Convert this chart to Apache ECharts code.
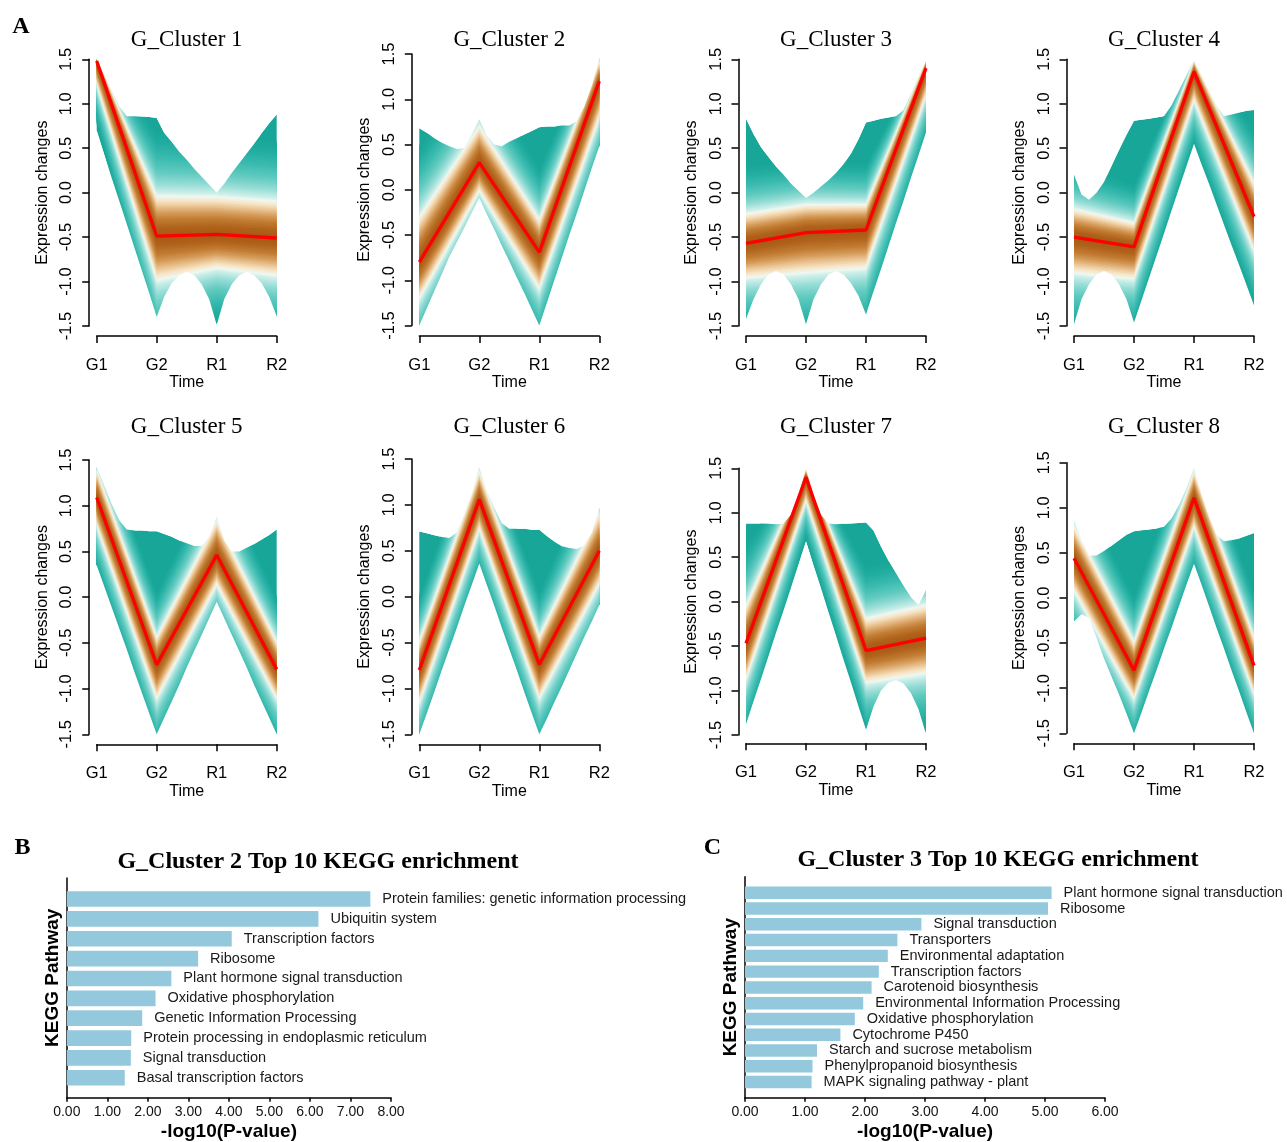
<!DOCTYPE html>
<html><head><meta charset="utf-8">
<script src="https://cdn.jsdelivr.net/npm/echarts/dist/echarts.min.js"></script>
<style>html,body{margin:0;padding:0;background:#fff}#main{width:1287px;height:1142px}</style>
</head><body><div id="main"></div>
<script>
// ---------- DATA ----------
const timeLabels = ['G1', 'G2', 'R1', 'R2'];
// positions (in time steps) at which the outer envelope was read
const envX = [0, 0.125, 0.25, 0.375, 0.5, 0.625, 0.75, 0.875, 1, 1.125, 1.25, 1.375, 1.5, 1.625, 1.75, 1.875, 2, 2.125, 2.25, 2.375, 2.5, 2.625, 2.75, 2.875, 3];
const clusterTitles = ['G_Cluster 1','G_Cluster 2','G_Cluster 3','G_Cluster 4','G_Cluster 5','G_Cluster 6','G_Cluster 7','G_Cluster 8'];

// centroid (red line) at G1,G2,R1,R2
const c1Center = [1.48, -0.49, -0.47, -0.51];
const c2Center = [-0.80, 0.30, -0.69, 1.20];
const c3Center = [-0.57, -0.45, -0.42, 1.40];
const c4Center = [-0.50, -0.61, 1.36, -0.27];
const c5Center = [1.09, -0.74, 0.46, -0.79];
const c6Center = [-0.80, 1.06, -0.74, 0.50];
const c7Center = [-0.47, 1.40, -0.55, -0.41];
const c8Center = [0.44, -0.80, 1.11, -0.75];

// outer envelope of all member profiles, read at envX
const c1Upper = [1.50, 1.33, 1.15, 0.97, 0.86, 0.86, 0.855, 0.85, 0.84, 0.67, 0.57, 0.46, 0.37, 0.27, 0.18, 0.09, 0.00, 0.10, 0.22, 0.33, 0.44, 0.55, 0.67, 0.78, 0.88];
const c1Lower = [0.70, 0.43, 0.165, -0.09, -0.35, -0.61, -0.87, -1.13, -1.40, -1.17, -1.02, -0.93, -0.89, -0.93, -1.03, -1.20, -1.49, -1.20, -1.03, -0.93, -0.89, -0.93, -1.02, -1.17, -1.39];
const c2Upper = [0.68, 0.63, 0.57, 0.52, 0.48, 0.45, 0.46, 0.61, 0.78, 0.60, 0.50, 0.48, 0.53, 0.57, 0.61, 0.65, 0.69, 0.70, 0.70, 0.71, 0.71, 0.76, 0.92, 1.15, 1.45];
const c2Lower = [-1.50, -1.31, -1.12, -0.93, -0.74, -0.58, -0.42, -0.25, -0.09, -0.27, -0.44, -0.62, -0.79, -0.97, -1.14, -1.32, -1.50, -1.25, -1.00, -0.75, -0.50, -0.26, -0.01, 0.24, 0.48];
const c3Upper = [0.83, 0.66, 0.51, 0.40, 0.29, 0.20, 0.10, 0.02, -0.06, 0.00, 0.07, 0.14, 0.22, 0.32, 0.44, 0.60, 0.79, 0.81, 0.83, 0.845, 0.86, 0.93, 1.11, 1.30, 1.49];
const c3Lower = [-1.42, -1.20, -1.03, -0.92, -0.88, -0.92, -1.03, -1.20, -1.48, -1.20, -1.03, -0.92, -0.88, -0.92, -1.02, -1.16, -1.37, -1.11, -0.86, -0.60, -0.34, -0.09, 0.17, 0.42, 0.68];
const c4Upper = [0.20, -0.02, -0.08, 0.00, 0.12, 0.30, 0.48, 0.65, 0.81, 0.82, 0.83, 0.845, 0.86, 0.98, 1.15, 1.32, 1.49, 1.32, 1.15, 0.98, 0.86, 0.88, 0.90, 0.92, 0.93];
const c4Lower = [-1.48, -1.20, -1.03, -0.92, -0.88, -0.92, -1.03, -1.20, -1.46, -1.21, -0.96, -0.71, -0.46, -0.20, 0.05, 0.30, 0.55, 0.32, 0.10, -0.13, -0.36, -0.59, -0.81, -1.04, -1.27];
const c5Upper = [1.42, 1.22, 1.02, 0.84, 0.74, 0.73, 0.73, 0.72, 0.72, 0.69, 0.66, 0.62, 0.59, 0.56, 0.56, 0.66, 0.88, 0.62, 0.50, 0.50, 0.54, 0.58, 0.63, 0.68, 0.74];
const c5Lower = [0.35, 0.12, -0.11, -0.34, -0.57, -0.81, -1.04, -1.27, -1.50, -1.32, -1.14, -0.96, -0.77, -0.59, -0.41, -0.23, -0.05, -0.23, -0.41, -0.59, -0.77, -0.96, -1.14, -1.32, -1.50];
const c6Upper = [0.71, 0.69, 0.67, 0.65, 0.64, 0.70, 0.90, 1.12, 1.41, 1.15, 0.97, 0.80, 0.74, 0.74, 0.74, 0.73, 0.73, 0.66, 0.60, 0.55, 0.53, 0.52, 0.56, 0.70, 0.96];
const c6Lower = [-1.50, -1.27, -1.04, -0.80, -0.57, -0.34, -0.10, 0.13, 0.36, 0.13, -0.10, -0.34, -0.57, -0.80, -1.04, -1.27, -1.50, -1.33, -1.15, -0.98, -0.80, -0.62, -0.44, -0.27, -0.09];
const c7Upper = [0.88, 0.88, 0.88, 0.875, 0.87, 0.88, 0.98, 1.20, 1.50, 1.20, 0.98, 0.88, 0.87, 0.875, 0.88, 0.885, 0.89, 0.80, 0.62, 0.46, 0.32, 0.18, 0.05, -0.04, 0.13];
const c7Lower = [-1.38, -1.12, -0.87, -0.61, -0.35, -0.10, 0.16, 0.42, 0.68, 0.41, 0.15, -0.12, -0.38, -0.65, -0.91, -1.18, -1.44, -1.18, -1.00, -0.91, -0.88, -0.92, -1.03, -1.21, -1.49];
const c8Upper = [0.86, 0.64, 0.47, 0.47, 0.52, 0.58, 0.64, 0.70, 0.74, 0.75, 0.76, 0.77, 0.79, 0.88, 1.03, 1.22, 1.44, 1.15, 0.90, 0.70, 0.63, 0.64, 0.66, 0.69, 0.72];
const c8Lower = [-0.26, -0.18, -0.22, -0.44, -0.67, -0.87, -1.07, -1.28, -1.50, -1.27, -1.03, -0.80, -0.56, -0.33, -0.09, 0.15, 0.38, 0.15, -0.09, -0.33, -0.56, -0.80, -1.03, -1.27, -1.50];

// extent of the high-membership (warm coloured) core above / below the centroid
const c1SpreadUp = [0.05, 0.50, 0.47, 0.46];  const c1SpreadDown = [0.30, 0.55, 0.42, 0.47];
const c2SpreadUp = [0.55, 0.45, 0.40, 0.25];  const c2SpreadDown = [0.45, 0.35, 0.45, 0.45];
const c3SpreadUp = [0.37, 0.35, 0.32, 0.10];  const c3SpreadDown = [0.43, 0.50, 0.48, 0.35];
const c4SpreadUp = [0.35, 0.30, 0.14, 0.42];  const c4SpreadDown = [0.45, 0.40, 0.36, 0.43];
const c5SpreadUp = [0.33, 0.34, 0.42, 0.34];  const c5SpreadDown = [0.35, 0.41, 0.36, 0.36];
const c6SpreadUp = [0.35, 0.34, 0.34, 0.46];  const c6SpreadDown = [0.40, 0.36, 0.41, 0.40];
const c7SpreadUp = [0.47, 0.10, 0.40, 0.41];  const c7SpreadDown = [0.45, 0.30, 0.40, 0.44];
const c8SpreadUp = [0.40, 0.35, 0.33, 0.35];  const c8SpreadDown = [0.40, 0.35, 0.36, 0.35];

// KEGG enrichment
const keggB = ['Protein families: genetic information processing','Ubiquitin system','Transcription factors','Ribosome','Plant hormone signal transduction','Oxidative phosphorylation','Genetic Information Processing','Protein processing in endoplasmic reticulum','Signal transduction','Basal transcription factors'];
const valuesB = [7.49, 6.21, 4.07, 3.24, 2.58, 2.19, 1.86, 1.59, 1.58, 1.43];
const keggC = ['Plant hormone signal transduction','Ribosome','Signal transduction','Transporters','Environmental adaptation','Transcription factors','Carotenoid biosynthesis','Environmental Information Processing','Oxidative phosphorylation','Cytochrome P450','Starch and sucrose metabolism','Phenylpropanoid biosynthesis','MAPK signaling pathway - plant'];
const valuesC = [5.11, 5.05, 2.94, 2.54, 2.38, 2.23, 2.11, 1.97, 1.83, 1.59, 1.20, 1.125, 1.11];

// ---------- LAYOUT / STYLE ----------
const panelLeft   = [96.7, 419.3, 746, 1074, 96.7, 419.3, 746, 1074];
const panelTop    = [59.3, 54, 59.3, 59.3, 460, 459, 468.3, 462.7];
const panelBottom = [326, 325.5, 326, 326, 734.3, 734.3, 735, 733.3];
const panelXOff   = [10, 10.5, 10, 10, 10, 10, 8.3, 10];
const panelW = 180;
const SANS = 'Liberation Sans', SERIF = 'Liberation Serif';
const TEAL = '#17a698';
const colorStops = [
  [0.00, [166, 87, 18]], [0.20, [176, 98, 27]], [0.40, [194, 124, 51]], [0.55, [214, 157, 92]],
  [0.70, [235, 199, 151]], [0.82, [247, 230, 200]], [0.92, [238, 247, 240]], [1.00, [205, 238, 233]],
  [1.20, [150, 221, 214]], [1.45, [100, 203, 193]], [1.75, [62, 188, 177]], [2.10, [34, 173, 160]], [2.40, [23, 166, 152]]
];
function colorAt(f) {
  for (let i = 1; i < colorStops.length; i++) {
    if (f <= colorStops[i][0]) {
      const a = colorStops[i - 1], b = colorStops[i];
      const t = (f - a[0]) / (b[0] - a[0]);
      const c = a[1].map((v, k) => Math.round(v + (b[1][k] - v) * t));
      return 'rgb(' + c.join(',') + ')';
    }
  }
  return 'rgb(' + colorStops[colorStops.length - 1][1].join(',') + ')';
}
const bandLevels = [];
for (let f = 2.36; f > 0.02; f -= 0.04) bandLevels.push(f);

const clusters = [
  {center: c1Center, upper: c1Upper, lower: c1Lower, up: c1SpreadUp, down: c1SpreadDown},
  {center: c2Center, upper: c2Upper, lower: c2Lower, up: c2SpreadUp, down: c2SpreadDown},
  {center: c3Center, upper: c3Upper, lower: c3Lower, up: c3SpreadUp, down: c3SpreadDown},
  {center: c4Center, upper: c4Upper, lower: c4Lower, up: c4SpreadUp, down: c4SpreadDown},
  {center: c5Center, upper: c5Upper, lower: c5Lower, up: c5SpreadUp, down: c5SpreadDown},
  {center: c6Center, upper: c6Upper, lower: c6Lower, up: c6SpreadUp, down: c6SpreadDown},
  {center: c7Center, upper: c7Upper, lower: c7Lower, up: c7SpreadUp, down: c7SpreadDown},
  {center: c8Center, upper: c8Upper, lower: c8Lower, up: c8SpreadUp, down: c8SpreadDown}
];

// fan of member profiles: envelope + membership-coloured bands (clipped to the plot)
function makeFanRender(cl) {
  return function (params, api) {
    const pt = (x, y) => api.coord([x, y]);
    const children = [];
    const upPts = envX.map((x, i) => pt(x, cl.upper[i]));
    const loPts = envX.map((x, i) => pt(x, cl.lower[i]));
    children.push({type: 'polygon', shape: {points: upPts.concat(loPts.slice().reverse())}, style: {fill: TEAL}});
    bandLevels.forEach(f => {
      const top = timeLabels.map((_, i) => pt(i, cl.center[i] + f * cl.up[i]));
      const bot = timeLabels.map((_, i) => pt(i, cl.center[i] - f * cl.down[i])).reverse();
      children.push({type: 'polygon', shape: {points: top.concat(bot)}, style: {fill: colorAt(f)}});
    });
    return {type: 'group', children};
  };
}
// white masks outside the envelope
function makeMaskRender(cl) {
  return function (params, api) {
    const pt = (x, y) => api.coord([x, y]);
    const n = envX.length;
    const upPts = [pt(-0.015, cl.upper[0])].concat(envX.map((x, i) => pt(x, cl.upper[i])), [pt(3.015, cl.upper[n - 1])]);
    const loPts = [pt(-0.015, cl.lower[0])].concat(envX.map((x, i) => pt(x, cl.lower[i])), [pt(3.015, cl.lower[n - 1])]);
    return {type: 'group', children: [
      {type: 'polygon', shape: {points: upPts.concat([pt(3.015, 1.525), pt(-0.015, 1.525)])}, style: {fill: '#fff'}},
      {type: 'polygon', shape: {points: loPts.concat([pt(3.015, -1.525), pt(-0.015, -1.525)])}, style: {fill: '#fff'}}
    ]};
  };
}

const grids = [], xAxes = [], yAxes = [], series = [], titles = [];
const axisLineStyle = {color: '#000', width: 1.5};

clusters.forEach((cl, p) => {
  grids.push({left: panelLeft[p], top: panelTop[p], width: panelW, height: panelBottom[p] - panelTop[p], outerBoundsMode: 'none', containLabel: false});
  xAxes.push({
    gridIndex: p, type: 'value', min: 0, max: 3, interval: 1, offset: panelXOff[p],
    axisLine: {show: true, onZero: false, lineStyle: axisLineStyle},
    axisTick: {show: true, length: 7, lineStyle: axisLineStyle},
    axisLabel: {formatter: v => timeLabels[v], fontSize: 16.5, margin: 21, color: '#000', fontFamily: SANS},
    splitLine: {show: false},
    name: 'Time', nameLocation: 'middle', nameGap: 39,
    nameTextStyle: {fontSize: 16, color: '#000', fontFamily: SANS}
  });
  yAxes.push({
    gridIndex: p, type: 'value', min: -1.5, max: 1.5, interval: 0.5, offset: 7.5,
    axisLine: {show: true, onZero: false, lineStyle: axisLineStyle},
    axisTick: {show: true, length: 7, lineStyle: axisLineStyle},
    axisLabel: {formatter: v => v.toFixed(1), rotate: 90, fontSize: 16.5, margin: 14, color: '#000', fontFamily: SANS},
    splitLine: {show: false},
    name: 'Expression changes', nameLocation: 'middle', nameGap: 39,
    nameTextStyle: {fontSize: 16, color: '#000', fontFamily: SANS}
  });
  series.push({
    type: 'custom', xAxisIndex: p, yAxisIndex: p, clip: true, silent: true,
    renderItem: makeFanRender(cl), data: [[0, 0]], encode: {x: 0, y: 1}, z: 2
  });
  series.push({
    type: 'custom', xAxisIndex: p, yAxisIndex: p, clip: false, silent: true,
    renderItem: makeMaskRender(cl), data: [[0, 0]], encode: {x: 0, y: 1}, z: 3
  });
  series.push({
    type: 'line', xAxisIndex: p, yAxisIndex: p, data: cl.center.map((v, i) => [i, v]),
    symbol: 'none', clip: false, silent: true, z: 5,
    lineStyle: {color: '#ff0000', width: 3.3}
  });
  titles.push({
    text: clusterTitles[p], left: panelLeft[p] + panelW / 2, top: (p < 4 ? 28.5 : 415), textAlign: 'center', padding: 0,
    textStyle: {fontFamily: SERIF, fontSize: 23, fontWeight: 'normal', color: '#000'}
  });
});

// ---------- bar charts ----------
function addBarChart(cfg) {
  const gA = grids.length;
  grids.push({left: cfg.left, top: cfg.axisTop, width: cfg.width, height: cfg.axisBottom - cfg.axisTop, outerBoundsMode: 'none', containLabel: false});
  xAxes.push({
    gridIndex: gA, type: 'value', min: 0, max: cfg.max, interval: 1,
    axisLine: {show: true, onZero: false, lineStyle: axisLineStyle},
    axisTick: {show: true, length: 4, lineStyle: axisLineStyle},
    axisLabel: {formatter: v => v.toFixed(2), fontSize: 14, margin: 7, color: '#111', fontFamily: SANS},
    splitLine: {show: false},
    name: '-log10(P-value)', nameLocation: 'middle', nameGap: 25,
    nameTextStyle: {fontSize: 19, fontWeight: 'bold', color: '#000', fontFamily: SANS}
  });
  yAxes.push({
    gridIndex: gA, type: 'value', min: 0, max: 1,
    axisLine: {show: true, onZero: false, lineStyle: axisLineStyle},
    axisTick: {show: false}, axisLabel: {show: false}, splitLine: {show: false},
    name: 'KEGG Pathway', nameLocation: 'middle', nameGap: 5,
    nameTextStyle: {fontSize: 19, fontWeight: 'bold', color: '#000', fontFamily: SANS, padding: cfg.namePad}
  });
  const gB = grids.length;
  grids.push({left: cfg.left, top: cfg.barTop, width: cfg.width, height: cfg.barBottom - cfg.barTop, outerBoundsMode: 'none', containLabel: false});
  xAxes.push({gridIndex: gB, type: 'value', min: 0, max: cfg.max, show: false});
  yAxes.push({gridIndex: gB, type: 'category', data: cfg.names, inverse: true, show: false});
  series.push({
    type: 'bar', xAxisIndex: gB, yAxisIndex: gB, data: cfg.values, barCategoryGap: '21%',
    itemStyle: {color: '#93c8dd'}, silent: true,
    label: {show: true, position: 'right', distance: 12, formatter: '{b}', fontSize: 14.5, color: '#1a1a1a', fontFamily: SANS}
  });
  titles.push({
    text: cfg.title, left: cfg.titleX, top: cfg.titleTop, textAlign: 'center', padding: 0,
    textStyle: {fontFamily: SERIF, fontSize: 24, fontWeight: 'bold', color: '#000'}
  });
}
addBarChart({left: 66.8, width: 324.2, max: 8, axisTop: 878, axisBottom: 1097.7, barTop: 889.1, barBottom: 1087.7,
  names: keggB, values: valuesB, title: 'G_Cluster 2 Top 10 KEGG enrichment', titleX: 318, titleTop: 850, namePad: [0, 0, 0, 20]});
addBarChart({left: 745, width: 360, max: 6, axisTop: 876.7, axisBottom: 1097.7, barTop: 884.9, barBottom: 1089.9,
  names: keggC, values: valuesC, title: 'G_Cluster 3 Top 10 KEGG enrichment', titleX: 998, titleTop: 848, namePad: [0, 0, 0, 0]});

// panel letters
[['A', 21, 14.5], ['B', 22.5, 835.5], ['C', 712.5, 835.5]].forEach(([t, x, y]) => {
  titles.push({text: t, left: x, top: y, textAlign: 'center', padding: 0,
    textStyle: {fontFamily: SERIF, fontSize: 24, fontWeight: 'bold', color: '#000'}});
});

const chart = echarts.init(document.getElementById('main'), null, {renderer: 'canvas', width: 1287, height: 1142});
chart.setOption({
  backgroundColor: '#fff', animation: false,
  textStyle: {fontFamily: SANS},
  title: titles, grid: grids, xAxis: xAxes, yAxis: yAxes, series: series
});
</script>
</body></html>
